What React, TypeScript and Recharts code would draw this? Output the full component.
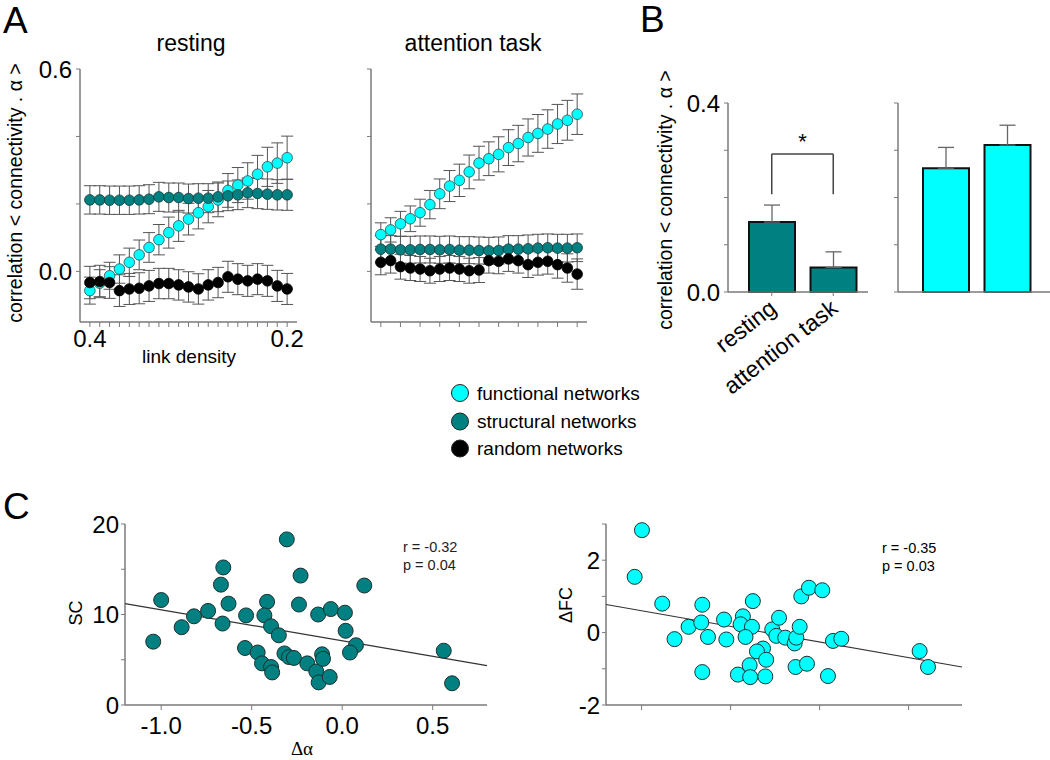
import React from "react";
import {
  ComposedChart,
  BarChart,
  Bar,
  Line,
  Scatter,
  ErrorBar,
  XAxis,
  YAxis,
  ReferenceLine,
} from "recharts";

const FONT = '"Liberation Sans", Arial, Helvetica, sans-serif';
const CYAN = "#00ffff";
const TEAL = "#008080";
const AXIS = "#7a7a7a";
const ERR = "#555555";

// ---- panel A: correlation vs link density ----
const density = [
  0.4, 0.39, 0.38, 0.37, 0.36, 0.35, 0.34, 0.33, 0.32, 0.31, 0.3, 0.29, 0.28,
  0.27, 0.26, 0.25, 0.24, 0.23, 0.22, 0.21, 0.2,
];
const densityTicksRest = density;
const densityTicksTask = [0.4, 0.38, 0.36, 0.34, 0.32, 0.3, 0.28, 0.26, 0.24, 0.22, 0.2];

const cyanRest = [
  -0.057, -0.035, -0.013, 0.007, 0.027, 0.049, 0.071, 0.094, 0.115, 0.135,
  0.155, 0.174, 0.192, 0.212, 0.24, 0.256, 0.268, 0.288, 0.31, 0.321, 0.337,
];
const cyanRestErr = [
  0.04, 0.04, 0.04, 0.042, 0.042, 0.044, 0.044, 0.045, 0.046, 0.046, 0.047,
  0.048, 0.048, 0.05, 0.05, 0.052, 0.054, 0.056, 0.058, 0.06, 0.064,
];
const tealRest = [
  0.212, 0.212, 0.211, 0.211, 0.211, 0.212, 0.214, 0.221, 0.219, 0.219, 0.216,
  0.217, 0.217, 0.221, 0.224, 0.227, 0.233, 0.231, 0.229, 0.227, 0.227,
];
const tealRestErr = [
  0.042, 0.042, 0.042, 0.042, 0.042, 0.042, 0.043, 0.043, 0.043, 0.043, 0.043,
  0.043, 0.043, 0.044, 0.044, 0.044, 0.044, 0.045, 0.045, 0.045, 0.046,
];
const blackRest = [
  -0.033, -0.03, -0.033, -0.057, -0.052, -0.05, -0.043, -0.036, -0.036, -0.04,
  -0.046, -0.052, -0.04, -0.033, -0.016, -0.023, -0.028, -0.023, -0.028,
  -0.043, -0.052,
];
const blackRestErr = [
  0.048, 0.048, 0.047, 0.047, 0.046, 0.046, 0.046, 0.045, 0.045, 0.045, 0.045,
  0.045, 0.045, 0.045, 0.046, 0.046, 0.046, 0.046, 0.046, 0.046, 0.046,
];

const cyanTask = [
  0.109, 0.123, 0.141, 0.156, 0.174, 0.198, 0.23, 0.253, 0.27, 0.295, 0.321,
  0.334, 0.347, 0.367, 0.379, 0.397, 0.409, 0.422, 0.437, 0.448, 0.466,
];
const cyanTaskErr = [
  0.035, 0.036, 0.037, 0.038, 0.04, 0.042, 0.044, 0.046, 0.048, 0.05, 0.05,
  0.05, 0.052, 0.053, 0.054, 0.055, 0.056, 0.057, 0.058, 0.059, 0.06,
];
const tealTask = [
  0.066, 0.066, 0.064, 0.064, 0.065, 0.065, 0.064, 0.065, 0.063, 0.063, 0.062,
  0.061, 0.062, 0.066, 0.066, 0.067, 0.069, 0.07, 0.069, 0.069, 0.07,
];
const tealTaskErr = [
  0.04, 0.04, 0.04, 0.04, 0.04, 0.04, 0.04, 0.04, 0.04, 0.04, 0.04, 0.04, 0.04,
  0.04, 0.04, 0.041, 0.041, 0.041, 0.041, 0.041, 0.041,
];
const blackTask = [
  0.027, 0.032, 0.014, 0.01, 0.007, 0.002, 0.007, 0.01, 0.007, 0.002, 0.004,
  0.032, 0.03, 0.037, 0.032, 0.02, 0.027, 0.03, 0.02, 0.01, -0.008,
];
const blackTaskErr = [
  0.037, 0.037, 0.037, 0.037, 0.037, 0.037, 0.037, 0.037, 0.037, 0.037, 0.037,
  0.037, 0.037, 0.037, 0.037, 0.038, 0.038, 0.038, 0.04, 0.042, 0.045,
];

// ---- panel B: bars ----
const conditions = ["resting", "attention task"];
const structBar = [0.148, 0.052];
const structBarErr = [0.036, 0.033];
const funcBar = [0.262, 0.311];
const funcBarErr = [0.044, 0.042];

// ---- panel C: scatter vs delta alpha ----
const scAlpha = [
  -1.044, -1.0, -0.887, -0.819, -0.741, -0.657, -0.67, -0.628, -0.661, -0.531,
  -0.537, -0.467, -0.443, -0.393, -0.387, -0.415, -0.43, -0.393, -0.35, -0.306,
  -0.319, -0.294, -0.267, -0.23, -0.239, -0.193, -0.133, -0.143, -0.13, -0.111,
  -0.106, -0.069, -0.063, 0.015, 0.019, 0.076, 0.043, 0.122, 0.561, 0.607,
];
const scValue = [
  7.0, 11.6, 8.6, 9.8, 10.4, 15.2, 13.3, 11.2, 9.0, 9.9, 6.3, 5.8, 4.6, 4.2,
  3.6, 11.4, 9.9, 8.7, 7.7, 18.3, 5.7, 5.3, 5.2, 14.3, 11.1, 4.6, 10.0, 3.7,
  2.5, 5.6, 5.1, 3.1, 10.6, 10.2, 8.2, 6.6, 5.8, 13.2, 6.0, 2.4,
];
const scFitX = [-1.2, 0.8];
const scFitY = [11.2, 4.35];

const fcAlpha = [
  -0.998, -1.039, -0.884, -0.815, -0.736, -0.659, -0.665, -0.627, -0.659,
  -0.537, -0.524, -0.431, -0.444, -0.38, -0.416, -0.375, -0.459, -0.393, -0.39,
  -0.318, -0.352, -0.3, -0.305, -0.266, -0.243, -0.228, -0.193, -0.14, -0.131,
  -0.112, -0.135, -0.071, -0.103, -0.06, 0.015, 0.047, 0.075, 0.122, 0.562,
  0.609,
];
const fcValue = [
  2.83, 1.54, 0.8, -0.18, 0.16, 0.77, 0.28, -0.12, -1.09, 0.36, -0.19, 0.45,
  0.23, 0.16, -0.12, 0.87, -1.16, -0.9, -1.23, -0.44, -0.52, -0.75, -1.21,
  0.09, -0.09, 0.41, -0.14, -0.3, -0.14, 0.16, -0.95, -0.86, 1.0, 1.24, 1.17,
  -1.2, -0.23, -0.17, -0.51, -0.95,
];
const fcFitX = [-1.2, 0.8];
const fcFitY = [0.776, -0.95];

const restData = density.map((d, i) => ({
  d,
  cyan: cyanRest[i],
  cyanErr: cyanRestErr[i],
  teal: tealRest[i],
  tealErr: tealRestErr[i],
  black: blackRest[i],
  blackErr: blackRestErr[i],
}));
const taskData = density.map((d, i) => ({
  d,
  cyan: cyanTask[i],
  cyanErr: cyanTaskErr[i],
  teal: tealTask[i],
  tealErr: tealTaskErr[i],
  black: blackTask[i],
  blackErr: blackTaskErr[i],
}));
const structData = conditions.map((c, i) => ({
  c,
  v: structBar[i],
  e: [0, structBarErr[i]],
}));
const funcData = conditions.map((c, i) => ({
  c,
  v: funcBar[i],
  e: [0, funcBarErr[i]],
}));
const scPoints = scAlpha.map((x, i) => ({ x, y: scValue[i] }));
const scFit = scFitX.map((x, i) => ({ x, y: scFitY[i] }));
const fcPoints = fcAlpha.map((x, i) => ({ x, y: fcValue[i] }));
const fcFit = fcFitX.map((x, i) => ({ x, y: fcFitY[i] }));

const tickFont = { fill: "#000", fontSize: 24, fontFamily: FONT };

// plotRight = pixel x where the plot area ends on the page
const DensityPanel = ({ data, left, width, yWidth, ticks, labelled, plotRight }: any) => (
  <div style={{ position: "absolute", left, top: 0 }}>
    <ComposedChart
      width={width}
      height={380}
      data={data}
      margin={{ top: 69, right: left + width - plotRight, bottom: 18, left: 0 }}
    >
      <XAxis
        type="number"
        dataKey="d"
        domain={[0.19, 0.41]}
        reversed
        ticks={ticks}
        interval={0}
        height={40}
        tickSize={5}
        tickMargin={3}
        axisLine={{ stroke: AXIS, strokeWidth: 1.5 }}
        tickLine={{ stroke: AXIS }}
        tick={tickFont}
        tickFormatter={(v: number) =>
          labelled && (v === 0.4 || v === 0.2) ? v.toFixed(1) : ""
        }
      />
      <YAxis
        type="number"
        domain={[-0.15, 0.6]}
        ticks={[0, 0.2, 0.4, 0.6]}
        width={yWidth}
        tickSize={4}
        tickMargin={4}
        axisLine={{ stroke: AXIS, strokeWidth: 1.5 }}
        tickLine={{ stroke: AXIS }}
        tick={tickFont}
        tickFormatter={(v: number) =>
          labelled && (v === 0 || v === 0.6) ? v.toFixed(1) : ""
        }
      />
      <Line
        dataKey="cyan"
        stroke="none"
        dot={{ r: 5.3, fill: CYAN, stroke: "#2b4a4a", strokeWidth: 0.8 }}
        isAnimationActive={false}
      >
        <ErrorBar dataKey="cyanErr" width={6} stroke={ERR} strokeWidth={1} />
      </Line>
      <Line
        dataKey="teal"
        stroke="none"
        dot={{ r: 5.3, fill: TEAL, stroke: "#1e3535", strokeWidth: 0.8 }}
        isAnimationActive={false}
      >
        <ErrorBar dataKey="tealErr" width={6} stroke={ERR} strokeWidth={1} />
      </Line>
      <Line
        dataKey="black"
        stroke="none"
        dot={{ r: 5.3, fill: "#000", stroke: "#000", strokeWidth: 0.8 }}
        isAnimationActive={false}
      >
        <ErrorBar dataKey="blackErr" width={6} stroke={ERR} strokeWidth={1} />
      </Line>
    </ComposedChart>
  </div>
);

const SlantTick = (props: any) => {
  const { x, y, payload } = props;
  const ax = x + 6;
  const ay = y + 13;
  return (
    <text
      x={ax}
      y={ay}
      transform={`rotate(-38, ${ax}, ${ay})`}
      textAnchor="end"
      fontSize={23}
      fontFamily={FONT}
      fill="#000"
    >
      {payload.value}
    </text>
  );
};

const BarPanel = ({ data, left, width, yWidth, fill, padding, labelled, bracket }: any) => (
  <div style={{ position: "absolute", left, top: 0 }}>
    <BarChart
      width={width}
      height={400}
      data={data}
      margin={{ top: 103, right: labelled ? 12 : 0, bottom: 48, left: 0 }}
    >
      <XAxis
        dataKey="c"
        height={60}
        padding={padding}
        tickSize={4}
        tickMargin={2}
        axisLine={{ stroke: AXIS, strokeWidth: 1.5 }}
        tickLine={{ stroke: AXIS }}
        interval={0}
        tick={labelled ? <SlantTick /> : false}
      />
      <YAxis
        type="number"
        domain={[0, 0.4]}
        ticks={[0, 0.1, 0.2, 0.3, 0.4]}
        width={yWidth}
        tickSize={4}
        tickMargin={4}
        axisLine={{ stroke: AXIS, strokeWidth: 1.5 }}
        tickLine={{ stroke: AXIS }}
        tick={tickFont}
        tickFormatter={(v: number) =>
          labelled && (v === 0 || v === 0.4) ? v.toFixed(1) : ""
        }
      />
      <Bar
        dataKey="v"
        fill={fill}
        stroke="#111"
        strokeWidth={2}
        barSize={46}
        isAnimationActive={false}
      >
        <ErrorBar dataKey="e" width={8} stroke="#666" strokeWidth={1.3} direction="y" />
      </Bar>
      {bracket && (
        <ReferenceLine
          segment={[
            { x: conditions[0], y: 0.292 },
            { x: conditions[1], y: 0.292 },
          ]}
          stroke="#444"
          strokeWidth={1.5}
          label={{ value: "*", position: "top", fontSize: 22, fill: "#000", fontFamily: FONT }}
        />
      )}
      {bracket && (
        <ReferenceLine
          segment={[
            { x: conditions[0], y: 0.292 },
            { x: conditions[0], y: 0.207 },
          ]}
          stroke="#444"
          strokeWidth={1.5}
        />
      )}
      {bracket && (
        <ReferenceLine
          segment={[
            { x: conditions[1], y: 0.292 },
            { x: conditions[1], y: 0.207 },
          ]}
          stroke="#444"
          strokeWidth={1.5}
        />
      )}
    </BarChart>
  </div>
);

const ScatterPanel = ({ points, fit, left, yWidth, right, yDomain, yTicks, yLabel, xLabelled, fill }: any) => (
  <div style={{ position: "absolute", left, top: 480 }}>
    <ComposedChart
      width={500}
      height={280}
      margin={{ top: 44, right, bottom: 15, left: 0 }}
    >
      <XAxis
        type="number"
        dataKey="x"
        domain={[-1.2, 0.8]}
        ticks={[-1, -0.5, 0, 0.5]}
        height={40}
        tickSize={5}
        tickMargin={7}
        axisLine={{ stroke: AXIS, strokeWidth: 1.5 }}
        tickLine={{ stroke: AXIS }}
        tick={tickFont}
        tickFormatter={(v: number) => (xLabelled ? v.toFixed(1) : "")}
      />
      <YAxis
        type="number"
        dataKey="y"
        domain={yDomain}
        ticks={yTicks}
        width={yWidth}
        tickSize={4}
        tickMargin={2}
        axisLine={{ stroke: AXIS, strokeWidth: 1.5 }}
        tickLine={{ stroke: AXIS }}
        tick={tickFont}
        tickFormatter={yLabel}
      />
      <Scatter
        data={fit}
        line={{ stroke: "#333", strokeWidth: 1.2 }}
        shape={() => <g />}
        isAnimationActive={false}
      />
      <Scatter
        data={points}
        shape={(p: any) => (
          <circle cx={p.cx} cy={p.cy} r={7.5} fill={fill} stroke="#1f3030" strokeWidth={1} />
        )}
        isAnimationActive={false}
      />
    </ComposedChart>
  </div>
);

const legendItems = [
  { label: "functional networks", color: CYAN, y: 393 },
  { label: "structural networks", color: TEAL, y: 421.5 },
  { label: "random networks", color: "#000", y: 448.5 },
];

const yLabelText = "correlation < connectivity . \u03b1 >";

export default function App() {
  return (
    <div
      style={{
        position: "absolute",
        left: 0,
        top: 0,
        width: 1050,
        height: 760,
        background: "#fff",
        overflow: "hidden",
        fontFamily: FONT,
      }}
    >
      <DensityPanel data={restData} left={0} width={330} yWidth={80} ticks={densityTicksRest} labelled plotRight={297} />
      <DensityPanel data={taskData} left={300} width={300} yWidth={71} ticks={densityTicksTask} labelled={false} plotRight={587} />
      <BarPanel
        data={structData}
        left={640}
        width={240}
        yWidth={88}
        fill={TEAL}
        padding={{ left: 13, right: 4 }}
        labelled
        bracket
      />
      <BarPanel
        data={funcData}
        left={880}
        width={170}
        yWidth={18}
        fill={CYAN}
        padding={{ left: 17, right: 12 }}
        labelled={false}
        bracket={false}
      />
      <ScatterPanel
        points={scPoints}
        fit={scFit}
        left={0}
        yWidth={125}
        right={13}
        yDomain={[0, 20]}
        yTicks={[0, 5, 10, 15, 20]}
        yLabel={(v: number) => (v % 10 === 0 ? String(v) : "")}
        xLabelled
        fill={TEAL}
      />
      <ScatterPanel
        points={fcPoints}
        fit={fcFit}
        left={500}
        yWidth={106}
        right={38}
        yDomain={[-2, 3]}
        yTicks={[-2, -1, 0, 1, 2, 3]}
        yLabel={(v: number) => (v % 2 === 0 ? String(v) : "")}
        xLabelled={false}
        fill={CYAN}
      />
      <svg
        width={1050}
        height={760}
        style={{ position: "absolute", left: 0, top: 0, pointerEvents: "none" }}
        fontFamily={FONT}
      >
        <text x={3} y={33} fontSize={37}>A</text>
        <text x={640} y={32} fontSize={37}>B</text>
        <text x={3} y={519} fontSize={37}>C</text>
        <text x={191} y={51} fontSize={23} textAnchor="middle">resting</text>
        <text x={473} y={51} fontSize={23} textAnchor="middle">attention task</text>
        <text x={189} y={363} fontSize={19} textAnchor="middle">link density</text>
        <text
          x={15}
          y={193}
          fontSize={19.5}
          textAnchor="middle"
          dominantBaseline="central"
          transform="rotate(-90, 15, 193)"
        >
          {yLabelText}
        </text>
        <text
          x={665}
          y={200}
          fontSize={19.5}
          textAnchor="middle"
          dominantBaseline="central"
          transform="rotate(-90, 665, 200)"
        >
          {yLabelText}
        </text>
        {legendItems.map((it) => (
          <g key={it.label}>
            <circle cx={460} cy={it.y} r={8.5} fill={it.color} stroke="#222" strokeWidth={1} />
            <text x={477} y={it.y} fontSize={19} dominantBaseline="central">
              {it.label}
            </text>
          </g>
        ))}
        <text
          x={76}
          y={613}
          fontSize={18}
          textAnchor="middle"
          dominantBaseline="central"
          transform="rotate(-90, 76, 613)"
        >
          SC
        </text>
        <text
          x={566}
          y={605}
          fontSize={18}
          textAnchor="middle"
          dominantBaseline="central"
          transform="rotate(-90, 566, 605)"
        >
          {"\u0394FC"}
        </text>
        <text x={302} y={755} fontSize={19} textAnchor="middle" fontFamily='"Liberation Serif", "Times New Roman", serif'>
          {"\u0394\u03b1"}
        </text>
        <text x={403} y={552} fontSize={14.5} fill="#222">r = -0.32</text>
        <text x={403} y={570} fontSize={14.5} fill="#222">p = 0.04</text>
        <text x={882} y={553} fontSize={14.5} fill="#000">r = -0.35</text>
        <text x={882} y={571} fontSize={14.5} fill="#000">p = 0.03</text>
      </svg>
    </div>
  );
}
